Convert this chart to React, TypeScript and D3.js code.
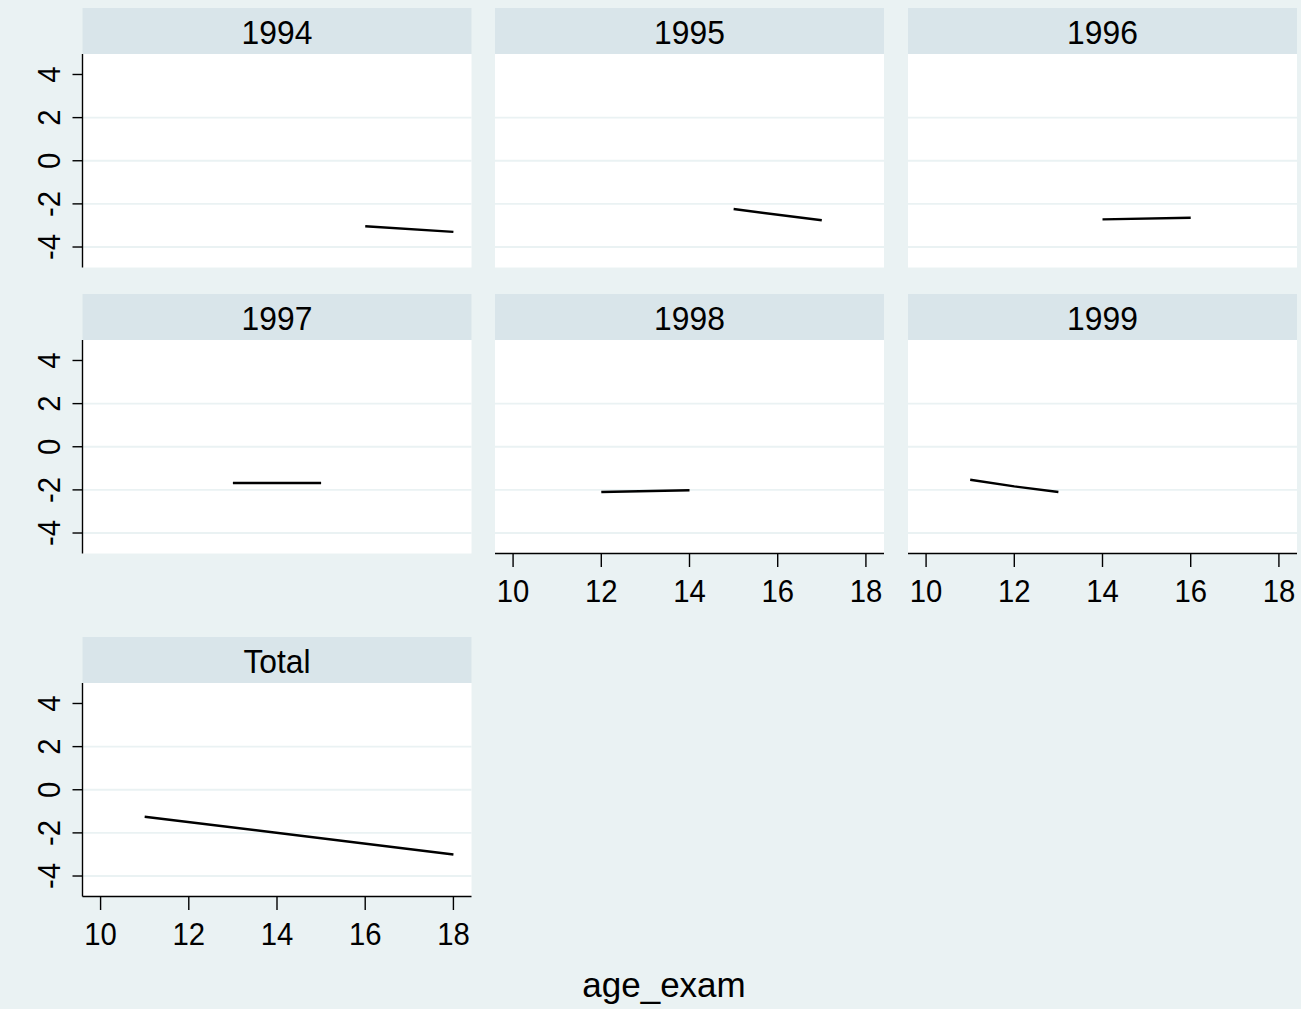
import React from "react";
import * as d3 from "d3";

const panelTitles = ["1994", "1995", "1996", "1997", "1998", "1999", "Total"];
const age1994 = [16, 18];
const fit1994 = [-3.04, -3.3];
const age1995 = [15, 17];
const fit1995 = [-2.24, -2.76];
const age1996 = [14, 16];
const fit1996 = [-2.72, -2.64];
const age1997 = [13, 15];
const fit1997 = [-1.68, -1.68];
const age1998 = [12, 14];
const fit1998 = [-2.1, -2.02];
const age1999 = [11, 12, 13];
const fit1999 = [-1.53, -1.84, -2.1];
const ageTotal = [11, 18];
const fitTotal = [-1.25, -3.0];
const xTicks = [10, 12, 14, 16, 18];
const yTicks = [-4, -2, 0, 2, 4];
const gridTicks = [-4, -2, 0, 2];
const xTitle = "age_exam";

const seriesAges = [age1994, age1995, age1996, age1997, age1998, age1999, ageTotal];
const seriesFits = [fit1994, fit1995, fit1996, fit1997, fit1998, fit1999, fitTotal];

const W = 1301;
const H = 1009;
const BG = "#eaf2f3";
const HEADER = "#d9e5ea";
const FONT = "'Liberation Sans', Arial, sans-serif";

const colLeft = [82.5, 495, 908];
const rowTop = [8, 294, 637];
const panelW = 389;
const headerH = 46;
const plotH = 213.5;

export default function App() {
  const panels = panelTitles.map((title, i) => {
    const row = Math.floor(i / 3);
    const col = i % 3;
    const left = colLeft[col];
    const top = rowTop[row];
    const plotTop = top + headerH;
    const plotBottom = plotTop + plotH;
    const x = d3.scaleLinear().domain([9.59, 18.41]).range([left, left + panelW]);
    const y = d3.scaleLinear().domain([-4.95, 4.95]).range([plotBottom, plotTop]);
    const showY = col === 0;
    const showX = i >= 4;
    const pts: [number, number][] = seriesAges[i].map((a, k) => [a, seriesFits[i][k]]);
    const line = d3
      .line<[number, number]>()
      .x((d) => x(d[0]))
      .y((d) => y(d[1]));
    return (
      <g key={title}>
        <rect x={left} y={top} width={panelW} height={headerH} fill={HEADER} />
        <text
          transform={`translate(${left + panelW / 2},${top + 35.5}) scale(0.95,1)`}
          textAnchor="middle"
          fontSize={33.5}
          fontFamily={FONT}
          fill="#000"
        >
          {title}
        </text>
        <rect x={left} y={plotTop} width={panelW} height={plotH} fill="#fff" />
        {gridTicks.map((t) => (
          <line
            key={"g" + t}
            x1={left}
            x2={left + panelW}
            y1={y(t)}
            y2={y(t)}
            stroke={BG}
            strokeWidth={1.8}
          />
        ))}
        <path d={line(pts) || ""} fill="none" stroke="#000" strokeWidth={2.4} />
        {showY && (
          <g>
            <line x1={left} x2={left} y1={plotTop} y2={plotBottom} stroke="#000" strokeWidth={1.4} />
            {yTicks.map((t) => (
              <g key={"y" + t}>
                <line x1={left - 10} x2={left} y1={y(t)} y2={y(t)} stroke="#000" strokeWidth={1.4} />
                <text
                  transform={`translate(${left - 22.5},${y(t)}) rotate(-90) scale(0.96,1)`}
                  textAnchor="middle"
                  fontSize={30.5}
                  fontFamily={FONT}
                  fill="#000"
                >
                  {t}
                </text>
              </g>
            ))}
          </g>
        )}
        {showX && (
          <g>
            <line x1={left} x2={left + panelW} y1={plotBottom} y2={plotBottom} stroke="#000" strokeWidth={1.4} />
            {xTicks.map((t) => (
              <g key={"x" + t}>
                <line x1={x(t)} x2={x(t)} y1={plotBottom} y2={plotBottom + 13.5} stroke="#000" strokeWidth={1.4} />
                <text
                  transform={`translate(${x(t)},${plotBottom + 48.5}) scale(0.96,1)`}
                  textAnchor="middle"
                  fontSize={30.5}
                  fontFamily={FONT}
                  fill="#000"
                >
                  {t}
                </text>
              </g>
            ))}
          </g>
        )}
      </g>
    );
  });

  return (
    <div style={{ position: "absolute", left: 0, top: 0, width: W, height: H }}>
      <svg width={W} height={H} style={{ display: "block" }}>
        <rect x={0} y={0} width={W} height={H} fill={BG} />
        {panels}
        <text x={664} y={997} textAnchor="middle" fontSize={35} fontFamily={FONT} fill="#000">
          {xTitle}
        </text>
      </svg>
    </div>
  );
}
